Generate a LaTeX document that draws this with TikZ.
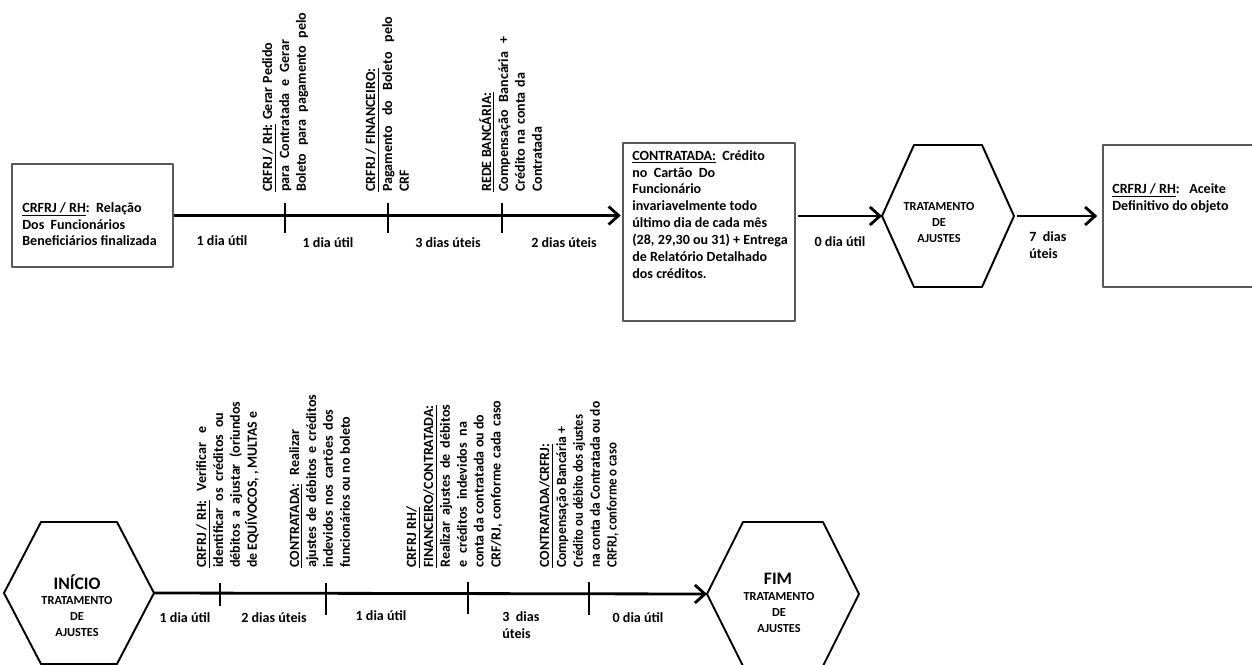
\documentclass[tikz,border=0pt]{standalone}
\usepackage{fontspec}
\usepackage{graphicx}
\setmainfont{Carlito}
\usetikzlibrary{arrows.meta,fit}
\newdimen\pxu \pxu=0.02cm
\newsavebox\linbox
\newcommand{\lin}[2]{\sbox\linbox{#2}\ifdim\wd\linbox>#1\pxu\resizebox{#1\pxu}{\height}{\usebox\linbox}\else\makebox[#1\pxu][s]{#2}\fi}
\begin{document}
\begin{tikzpicture}[x=0.02cm, y=-0.02cm, line join=round, font=\fontsize{8}{9.6}\selectfont\bfseries,
	caixa/.style={draw=black!65, line width=0.6pt, inner sep=0pt},
	hexa/.style={draw, line width=1.1pt},
	seta/.style={line width=1.6pt, -{Straight Barb[length=0.2cm, width=0.36cm]}},
	marca/.style={line width=1.1pt},
	texto/.style={inner sep=0pt, align=left, anchor=north west},
	vert/.style={texto, rotate=90},
	rotulo/.style={inner sep=0pt},
	hextxt/.style={inner sep=0pt, align=center, anchor=north, font=\fontsize{7}{9}\selectfont\bfseries},
	titulo/.style={inner sep=0pt, anchor=base, font=\fontsize{10}{12}\selectfont\bfseries}]
	\useasboundingbox (0,0) rectangle (1252,664);
	
	% caixas
	\node[caixa, fit={(12,164) (173,267)}] (rel) {};
	\node[caixa, fit={(623,143) (795,321)}] (contr) {};
	\node[caixa, fit={(1103,145) (1262,287)}] (acei) {};
	\node[texto] (rel-txt) at (22,202) {\underline{CRFRJ / RH}:~~Relação\\Dos~~Funcionários\\Beneficiários finalizada};
	\node[texto] (contr-txt) at (632,150) {\underline{CONTRATADA:}~~Crédito\\no~~Cartão~~Do\\Funcionário\\invariavelmente todo\\último dia de cada mês\\(28, 29,30 ou 31) + Entrega\\de Relatório Detalhado\\dos créditos.};
	\node[texto] (acei-txt) at (1112,183) {\underline{CRFRJ / RH}:~~~Aceite\\Definitivo do objeto};
	
	% hexagonos
	\foreach \nome/\cx/\cy/\lw/\lt/\lh in {hexA/948/216/66/34/71, hexB/79/593/75/38/71, hexC/783/594/76/40/72}{
		\draw[hexa] (\cx-\lw,\cy) coordinate (\nome-w) -- (\cx-\lt,\cy-\lh) -- (\cx+\lt,\cy-\lh) -- (\cx+\lw,\cy) coordinate (\nome-e) -- (\cx+\lt,\cy+\lh) -- (\cx-\lt,\cy+\lh) -- cycle;
	}
	\node[hextxt] (trat-a) at (939,202) {TRATAMENTO\\DE\\AJUSTES};
	\node[titulo] (inicio) at (77,589) {INÍCIO};
	\node[hextxt] (trat-b) at (77,596) {TRATAMENTO\\DE\\AJUSTES};
	\node[titulo] (fim) at (778,584) {FIM};
	\node[hextxt] (trat-c) at (779,592) {TRATAMENTO\\DE\\AJUSTES};
	
	% setas
	\draw[seta, shorten >=1pt] (rel.east) -- (rel.east -| contr.west);
	\draw[seta, shorten <=1.5pt] (contr.east |- hexA-w) -- (hexA-w);
	\draw[seta, shorten <=1.5pt, shorten >=3pt] (hexA-e) -- (acei.west |- hexA-e);
	\draw[seta] (hexB-e) -- (hexC-w);
	
	\foreach \x/\ya/\yb in {285/203/233, 388/203/233, 502/203/233, 220/583/606, 326/583/615, 468/582/614, 589/582/615}{
		\draw[marca] (\x,\ya) -- (\x,\yb);
	}
	
	% prazos
	\foreach \x/\y/\txt [count=\i] in {222/241/1 dia útil, 328/243/1 dia útil, 448/243/3 dias úteis, 564/243/2 dias úteis, 840/242/0 dia útil, 185/618/1 dia útil, 274/618/2 dias úteis, 381/616/1 dia útil, 638/618/0 dia útil}{
		\node[rotulo] (prazo-\i) at (\x,\y) {\txt};
	}
	\node[texto] (prazo-10) at (1029,231) {7~~dias\\úteis};
	\node[texto] (prazo-11) at (502,611) {3~~dias\\úteis};
	
	% etapas (texto vertical)
	\node[vert] (etapa-1) at (262,192) {\lin{149}{\underline{CRFRJ / RH:} Gerar Pedido}\\ \lin{152}{para Contratada e Gerar}\\ \lin{179}{Boleto para pagamento pelo}};
	\node[vert] (etapa-2) at (365,192) {\underline{CRFRJ / FINANCEIRO:}\\ \lin{175}{Pagamento do Boleto pelo}\\ CRF};
	\node[vert] (etapa-3) at (479,192) {\underline{REDE BANCÁRIA:}\\ \lin{155}{Compensação Bancária +}\\ \lin{119}{Crédito na conta da}\\ Contratada};
	\node[vert] (etapa-4) at (196,568) {\lin{141}{\underline{CRFRJ / RH:} Verificar e}\\ \lin{155}{identificar os créditos ou}\\ \lin{166}{débitos a ajustar (oriundos}\\ \lin{156}{de EQUÍVOCOS, , MULTAS e}};
	\node[vert] (etapa-5) at (289,568) {\lin{138}{\underline{CONTRATADA:} Realizar}\\ \lin{173}{ajustes de débitos e créditos}\\ \lin{158}{indevidos nos cartões dos}\\ \lin{151}{funcionários ou no boleto}};
	\node[vert] (etapa-6) at (406,568) {\underline{\lin{61}{CRFRJ RH/}}\\ \underline{FINANCEIRO/CONTRATADA:}\\ \lin{163}{Realizar ajustes de débitos}\\ \lin{146}{e créditos indevidos na}\\ \lin{153}{conta da contratada ou do}\\ \lin{167}{CRF/RJ, conforme cada caso}};
	\node[vert] (etapa-7) at (539,568) {\underline{CONTRATADA/CRFRJ:}\\ \lin{141}{Compensação Bancária +}\\ \lin{153}{Crédito ou débito dos ajustes}\\ \lin{166}{na conta da Contratada ou do}\\ \lin{125}{CRFRJ, conforme o caso}};
\end{tikzpicture}
\end{document}
